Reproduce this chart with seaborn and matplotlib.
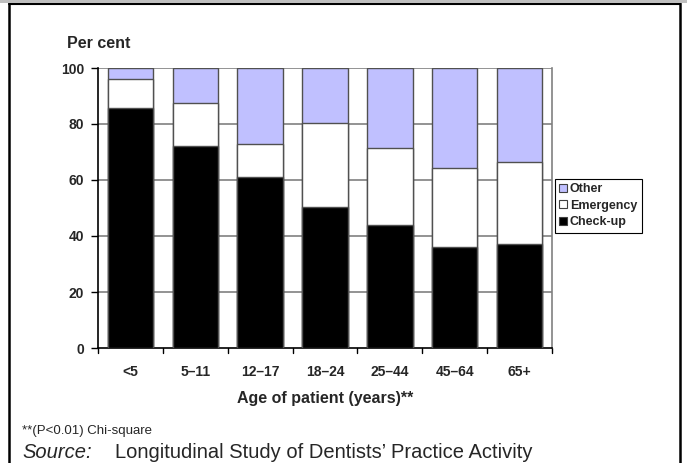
import matplotlib
matplotlib.use("Agg")
import matplotlib.pyplot as plt
import seaborn as sns
import pandas as pd
import numpy as np
from matplotlib.patches import Patch, Rectangle
from matplotlib.lines import Line2D

sns.set_style("white")
plt.rcParams['font.family'] = ['Liberation Sans', 'DejaVu Sans']

ages = ["<5", "5\u201311", "12\u201317", "18\u201324", "25\u201344", "45\u201364", "65+"]
checkup = [85.6, 72.1, 61.2, 50.4, 43.9, 36.2, 37.0]
emergency = [10.4, 15.3, 11.7, 29.8, 27.4, 28.2, 29.5]
other = [4.0, 12.6, 27.1, 19.8, 28.7, 35.6, 33.5]
yticks = [0, 20, 40, 60, 80, 100]

c_other = "#C0C0FF"
c_emerg = "#FFFFFF"
c_check = "#000000"

df = pd.DataFrame({"age": ages, "Check-up": checkup, "Emergency": emergency, "Other": other})
df["cum_emerg"] = df["Check-up"] + df["Emergency"]
df["cum_other"] = df["cum_emerg"] + df["Other"]

fig = plt.figure(figsize=(6.87, 4.63), dpi=100)
ax = fig.add_axes([98/687, 1 - 348/463, (552-98)/687, (348-68)/463])

for y in yticks[1:]:
    ax.axhline(y, color="#808080", lw=1.2, zorder=0)

w = 0.70
sns.barplot(data=df, x="age", y="cum_other", color=c_other, width=w, edgecolor="#505050",
            linewidth=1.0, ax=ax, zorder=2, saturation=1)
sns.barplot(data=df, x="age", y="cum_emerg", color=c_emerg, width=w, edgecolor="#505050",
            linewidth=1.0, ax=ax, zorder=3, saturation=1)
sns.barplot(data=df, x="age", y="Check-up", color=c_check, width=w, edgecolor="#505050",
            linewidth=1.0, ax=ax, zorder=4, saturation=1)

ax.set_xlim(-0.5, len(ages) - 0.5)
ax.set_ylim(0, 100)
ax.set_yticks(yticks)
ax.set_yticklabels([str(t) for t in yticks], fontsize=10, fontweight="bold")
ax.set_xticks(range(len(ages)))
ax.set_xticklabels(ages, fontsize=10, fontweight="bold")
ax.tick_params(axis="x", length=0, pad=12)
ax.tick_params(axis="y", direction="out", length=5, width=1, color="black", pad=5, left=True)
for b in np.arange(-0.5, len(ages), 1.0):
    ax.plot([b, b], [0, -1.8], color="black", lw=1, clip_on=False, transform=ax.transData)
ax.set_xlabel("Age of patient (years)**", fontsize=11.5, fontweight="bold", labelpad=9)
ax.set_ylabel("")
ax.spines["top"].set_visible(False)
ax.spines["right"].set_color("#808080")
ax.spines["right"].set_linewidth(1.2)
ax.spines["left"].set_color("black")
ax.spines["left"].set_linewidth(1.2)
ax.spines["bottom"].set_color("black")
ax.spines["bottom"].set_linewidth(1.2)

fig.text(67/687, 1 - 44/463, "Per cent", fontsize=11.5, fontweight="bold", va="center", ha="left")

handles = [Patch(facecolor=c_other, edgecolor="#404040", lw=0.8, label="Other"),
           Patch(facecolor=c_emerg, edgecolor="#404040", lw=0.8, label="Emergency"),
           Patch(facecolor=c_check, edgecolor="#404040", lw=0.8, label="Check-up")]
leg = fig.legend(handles=handles, loc="upper left", bbox_to_anchor=(555/687, 1 - 179/463),
                 frameon=True, fancybox=False, edgecolor="black", framealpha=1,
                 prop={"weight": "bold", "size": 9}, handlelength=0.6, handleheight=0.6,
                 handletextpad=0.25, borderpad=0.35, labelspacing=0.35, borderaxespad=0)
leg.get_frame().set_linewidth(0.8)

fig.text(22/687, 1 - 431/463, "**(P<0.01) Chi-square", fontsize=9.5, va="center", ha="left")
fig.text(22/687, 1 - 452/463, "Source:", fontsize=14.5, style="italic", va="center", ha="left")
fig.text(115/687, 1 - 452/463, "Longitudinal Study of Dentists\u2019 Practice Activity", fontsize=14.5,
         va="center", ha="left")

# frame of the figure box
fig.patches.append(Rectangle((0, 1 - 3/463), 1, 3/463, transform=fig.transFigure,
                             facecolor="#BFBFBF", edgecolor="none", zorder=10))
fig.lines.append(Line2D([9/687, 680/687], [1 - 3.5/463, 1 - 3.5/463], transform=fig.transFigure,
                        color="black", lw=1.5))
fig.lines.append(Line2D([9/687, 9/687], [0, 1 - 3/463], transform=fig.transFigure,
                        color="black", lw=1.8))
fig.lines.append(Line2D([680/687, 680/687], [0, 1 - 3/463], transform=fig.transFigure,
                        color="black", lw=1.8))

fig.savefig("out.png", dpi=100)
